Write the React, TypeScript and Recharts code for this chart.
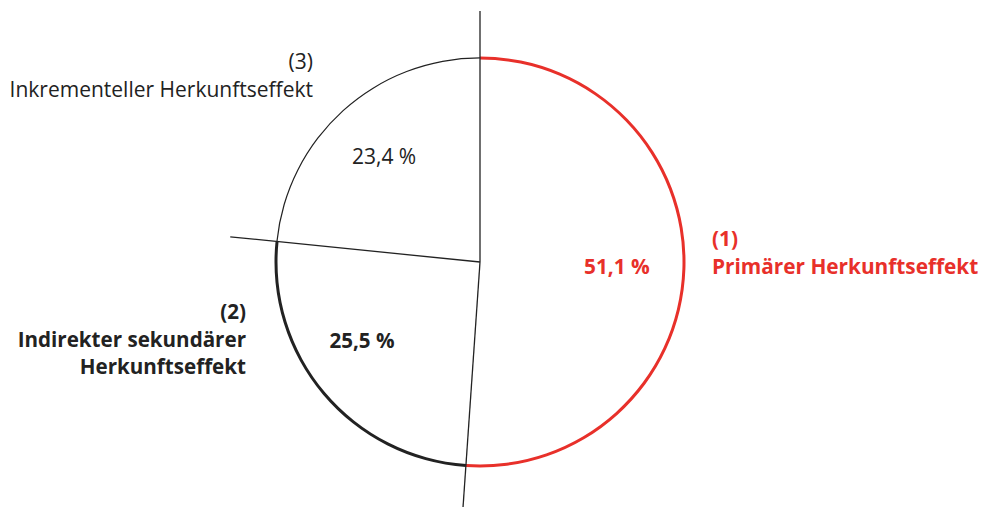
import { Cell, Pie, PieChart } from "recharts";

const segments = ["Primärer Herkunftseffekt", "Indirekter sekundärer Herkunftseffekt", "Inkrementeller Herkunftseffekt"];
const markers = ["(1)", "(2)", "(3)"];
const shares = [51.1, 25.5, 23.4];
const shareLabels = ["51,1 %", "25,5 %", "23,4 %"];

const RED = "#e8302a";
const DARK = "#222222";
const FONT = "'Open Sans', sans-serif";

const data = segments.map((name, i) => ({ name, value: shares[i] }));

// outer label blocks, placed relative to the pie centre
const outerLabels = [
  { dx: 232, dy: -16, anchor: "start", lines: [markers[0], "Primärer Herkunftseffekt"] },
  { dx: -234, dy: 57, anchor: "end", lines: [markers[1], "Indirekter sekundärer", "Herkunftseffekt"] },
  { dx: -167, dy: -193, anchor: "end", lines: [markers[2], "Inkrementeller Herkunftseffekt"] }
];
const innerShift = [
  [-3, -1],
  [-11, -12],
  [-2, -2]
];
const textColors = [RED, DARK, DARK];
const textWeights = [700, 700, 400];
const textSizes = [20.8, 20.6, 21];

const RAD = Math.PI / 180;

function renderLabel(props: any) {
  const { cx, cy, startAngle, midAngle, index } = props;
  const lineLen = 251;
  const ex = cx + lineLen * Math.cos(-startAngle * RAD);
  const ey = cy + lineLen * Math.sin(-startAngle * RAD);
  const r = 140;
  const tx = cx + r * Math.cos(-midAngle * RAD) + innerShift[index][0];
  const ty = cy + r * Math.sin(-midAngle * RAD) + innerShift[index][1];
  const ol = outerLabels[index];
  return (
    <g key={`lbl-${index}`}>
      <line x1={cx} y1={cy} x2={ex} y2={ey} stroke={DARK} strokeWidth={1.3} />
      <text
        x={tx}
        y={ty}
        textAnchor="middle"
        dominantBaseline="central"
        fill={textColors[index]}
        fontWeight={textWeights[index]}
        fontSize={textSizes[index]}
        fontFamily={FONT}
      >
        {shareLabels[index]}
      </text>
      <text
        x={cx + ol.dx}
        y={cy + ol.dy}
        textAnchor={ol.anchor as any}
        fill={textColors[index]}
        fontWeight={textWeights[index]}
        fontSize={textSizes[index]}
        fontFamily={FONT}
      >
        {ol.lines.map((l, j) => (
          <tspan key={j} x={cx + ol.dx} dy={j === 0 ? 0 : 27.5}>
            {l}
          </tspan>
        ))}
      </text>
    </g>
  );
}

export default function App() {
  return (
    <div style={{ position: "fixed", left: 0, top: 0, width: 981, height: 507, background: "#fff" }}>
      <PieChart width={981} height={507} margin={{ top: 0, right: 0, bottom: 0, left: 0 }}>
        <Pie
          data={data}
          dataKey="value"
          cx={480}
          cy={262}
          startAngle={90}
          endAngle={-270}
          innerRadius={202.5}
          outerRadius={205.5}
          stroke="none"
          isAnimationActive={false}
        >
          <Cell fill={RED} />
          <Cell fill={DARK} />
          <Cell fill="transparent" />
        </Pie>
        <Pie
          data={data}
          dataKey="value"
          cx={480}
          cy={262}
          startAngle={90}
          endAngle={-270}
          innerRadius={203.5}
          outerRadius={204.7}
          stroke="none"
          isAnimationActive={false}
        >
          <Cell fill="transparent" />
          <Cell fill="transparent" />
          <Cell fill={DARK} />
        </Pie>
        <Pie
          data={data}
          dataKey="value"
          cx={480}
          cy={262}
          startAngle={90}
          endAngle={-270}
          innerRadius={0}
          outerRadius={204}
          fill="transparent"
          stroke="none"
          label={renderLabel}
          labelLine={false}
          isAnimationActive={false}
        />
      </PieChart>
    </div>
  );
}
